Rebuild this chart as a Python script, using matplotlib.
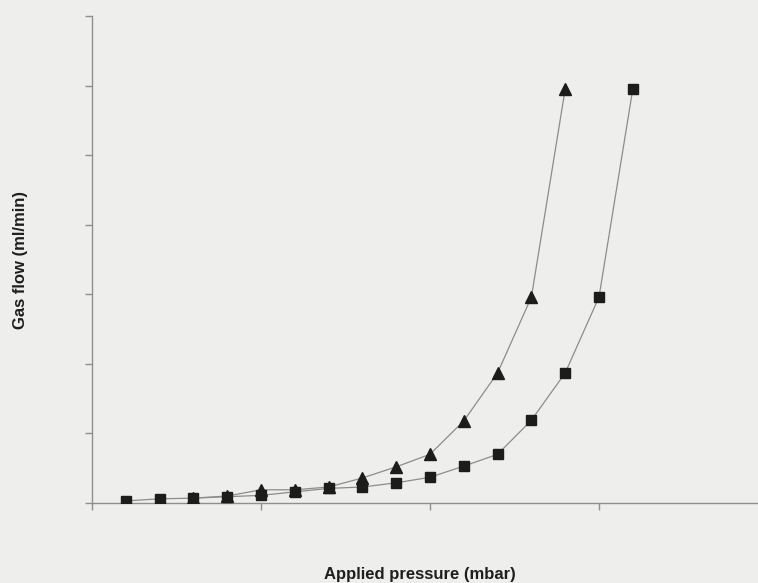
import matplotlib
matplotlib.use("Agg")
import matplotlib.pyplot as plt

# Applied pressure (mbar) and gas flow (ml/min) for the two test runs
pressure_sq = [10, 20, 30, 40, 50, 60, 70, 80, 90, 100, 110, 120, 130, 140, 150, 160]
flow_sq = [1.5, 3.0, 3.5, 4.5, 5.5, 8.0, 10.5, 11.5, 14.5, 18.5, 26.5, 35.0, 59.5, 93.5, 148.0, 297.5]

pressure_tri = [30, 40, 50, 60, 70, 80, 90, 100, 110, 120, 130, 140]
flow_tri = [3.5, 5.0, 9.5, 9.5, 11.5, 18.0, 26.0, 35.0, 59.0, 93.5, 148.0, 297.5]

x_ticks = [0, 50, 100, 150]
y_ticks = [0, 50, 100, 150, 200, 250, 300, 350]

bg = "#eeefec"
fig = plt.figure(figsize=(7.58, 5.83), dpi=100, facecolor=bg)
ax = fig.add_axes([92 / 758, 80 / 583, (758 - 92) / 758, (503 - 16) / 583])
ax.set_facecolor(bg)

line_col = "#8c8c8c"
mark_col = "#1c1c1c"

ax.plot(pressure_tri, flow_tri, color=line_col, lw=0.9, zorder=2)
ax.plot(pressure_sq, flow_sq, color=line_col, lw=0.9, zorder=2)

ax.plot(pressure_tri, flow_tri, ls="none", marker="^", ms=8.5, color=mark_col, zorder=3)
ax.plot(pressure_sq, flow_sq, ls="none", marker="s", ms=7, color=mark_col, zorder=4)

ax.set_xlim(0, (758 - 92) / 169 * 50)
ax.set_ylim(0, 350)
ax.set_xticks(x_ticks)
ax.set_yticks(y_ticks)
ax.set_xticklabels([])
ax.set_yticklabels([])
ax.tick_params(direction="out", length=5, width=1, color="#8f8f8f")

for side in ("top", "right"):
    ax.spines[side].set_visible(False)
for side in ("left", "bottom"):
    ax.spines[side].set_color("#8f8f8f")
    ax.spines[side].set_linewidth(1.0)

font = dict(family=["Liberation Sans", "DejaVu Sans"], fontsize=12, fontweight="bold", color="#1e1e1e")
fig.text(420 / 758, 1 - 575 / 583, "Applied pressure (mbar)", ha="center", va="center", **font)
fig.text(21 / 758, 1 - 260 / 583, "Gas flow (ml/min)", ha="center", va="center", rotation=90, **font)

fig.savefig("out.png", dpi=100, facecolor=bg)
